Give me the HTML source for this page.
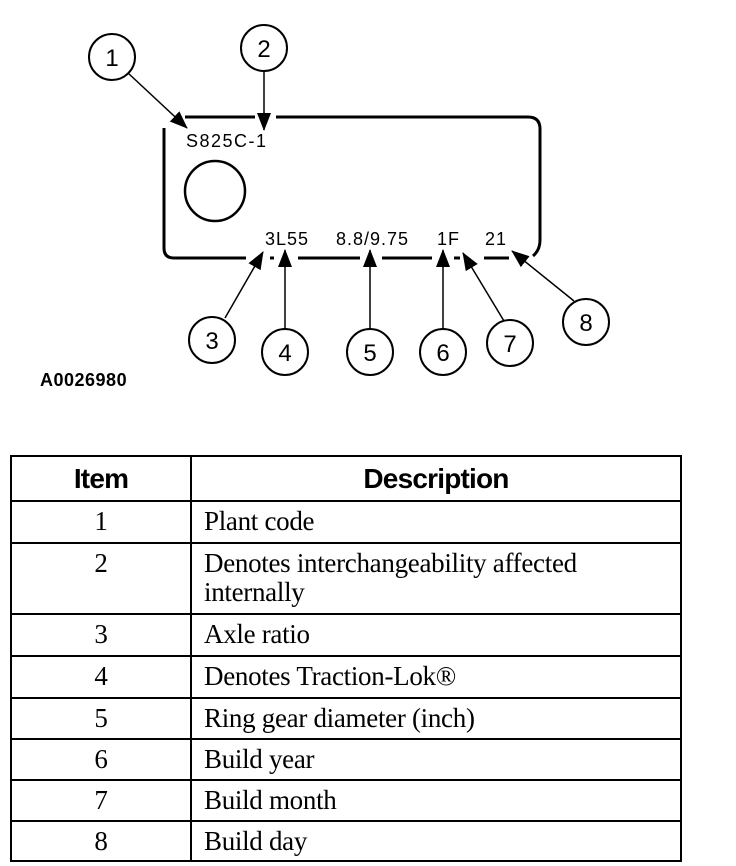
<!DOCTYPE html>
<html><head><style>
body{margin:0;background:#fff;width:736px;height:866px;overflow:hidden;font-family:"Liberation Sans",sans-serif}
svg{position:absolute;left:0;top:0}
table{position:absolute;left:10px;top:455px;width:672px;border-collapse:collapse;font-family:"Liberation Serif",serif;font-size:27px;letter-spacing:-0.3px}
td{border:2px solid #000;padding:5px 0 0 12px;vertical-align:top;line-height:29px}
td.c{text-align:center;padding:5px 0 0 0;width:176px}
th{border:2px solid #000;font-family:"Liberation Sans",sans-serif;font-weight:bold;font-size:28px;height:41px;letter-spacing:-0.8px}
</style></head><body>
<svg width="736" height="440" viewBox="0 0 736 440">
<defs>
<marker id="b" markerWidth="18" markerHeight="18" refX="17" refY="9" orient="auto" markerUnits="userSpaceOnUse" viewBox="0 0 18 18"><path d="M0,2 L18,9 L0,16z" fill="#000"/></marker></defs>
<g fill="none" stroke="#000" stroke-width="3">
<path d="M185,117 H255 M276,117 H528 Q540,117 540,129 V240 Q540,250 533,256"/>
<path d="M164,128 V248 Q164,258 174,258 H246 M270,258 H274 M298,258 H360 M382,258 H432 M454,258 H460 M484,258 H509"/>
<circle cx="215" cy="191" r="30" stroke-width="2.5"/>
</g>
<g fill="#fff" stroke="#000" stroke-width="2">
<circle cx="112" cy="57" r="23"/><circle cx="264" cy="48" r="23"/>
<circle cx="212" cy="340" r="23"/><circle cx="285" cy="352" r="23"/><circle cx="370" cy="352" r="23"/>
<circle cx="443" cy="352" r="23"/><circle cx="510" cy="343" r="23"/><circle cx="586" cy="322" r="23"/>
</g>
<g stroke="#000" stroke-width="1.5" marker-end="url(#b)">
<line x1="128" y1="73" x2="187" y2="128"/>
<line x1="264" y1="71" x2="264" y2="130"/>
<line x1="225" y1="318" x2="263" y2="252"/>
<line x1="285" y1="329" x2="285" y2="250"/>
<line x1="370" y1="329" x2="370" y2="250"/>
<line x1="443" y1="329" x2="443" y2="250"/>
<line x1="504" y1="321" x2="463" y2="253"/>
<line x1="574" y1="301" x2="512" y2="251"/>
</g>
<g font-size="24" text-anchor="middle" font-family="Liberation Sans">
<text x="112" y="66">1</text><text x="264" y="57">2</text><text x="212" y="349">3</text><text x="285" y="361">4</text>
<text x="370" y="361">5</text><text x="443" y="361">6</text><text x="510" y="352">7</text><text x="586" y="331">8</text>
</g>
<g font-size="18" letter-spacing="1">
<text x="186" y="147" letter-spacing="1.5">S825C-1</text>
<text x="265" y="245">3L55</text><text x="336" y="245">8.8/9.75</text><text x="437" y="245">1F</text><text x="485" y="245">21</text>
</g>
<text x="40" y="386" font-size="18" font-weight="bold" letter-spacing="0.5">A0026980</text>
</svg>
<table>
<tr><th style="width:176px">Item</th><th>Description</th></tr>
<tr style="height:42px"><td class="c">1</td><td>Plant code</td></tr>
<tr style="height:71px"><td class="c">2</td><td>Denotes interchangeability affected<br>internally</td></tr>
<tr style="height:42px"><td class="c">3</td><td>Axle ratio</td></tr>
<tr style="height:42px"><td class="c">4</td><td>Denotes Traction-Lok®</td></tr>
<tr style="height:41px"><td class="c">5</td><td>Ring gear diameter (inch)</td></tr>
<tr style="height:41px"><td class="c">6</td><td>Build year</td></tr>
<tr style="height:41px"><td class="c">7</td><td>Build month</td></tr>
<tr style="height:40px"><td class="c">8</td><td>Build day</td></tr>
</table>
</body></html>
